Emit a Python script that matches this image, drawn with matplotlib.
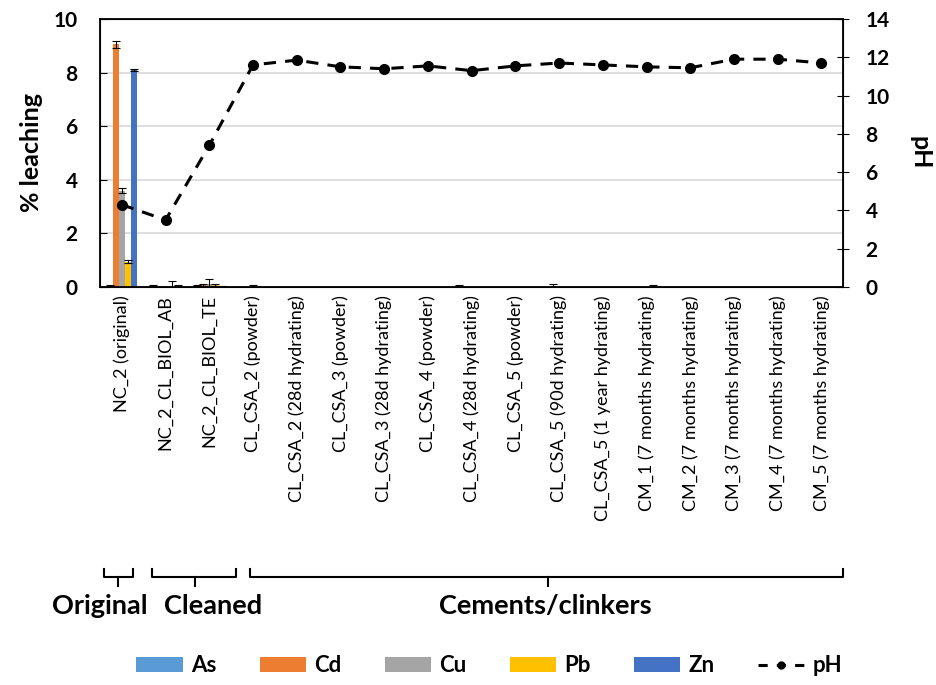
import numpy as np
import matplotlib.pyplot as plt
from matplotlib.patches import Patch
from matplotlib.lines import Line2D

plt.rcParams['font.family'] = ['Lato', 'DejaVu Sans']

samples = ['NC_2 (original)', 'NC_2_CL_BIOL_AB', 'NC_2_CL_BIOL_TE',
           'CL_CSA_2 (powder)', 'CL_CSA_2 (28d hydrating)', 'CL_CSA_3 (powder)',
           'CL_CSA_3 (28d hydrating)', 'CL_CSA_4 (powder)', 'CL_CSA_4 (28d hydrating)',
           'CL_CSA_5 (powder)', 'CL_CSA_5 (90d hydrating)', 'CL_CSA_5 (1 year hydrating)',
           'CM_1 (7 months hydrating)', 'CM_2 (7 months hydrating)', 'CM_3 (7 months hydrating)',
           'CM_4 (7 months hydrating)', 'CM_5 (7 months hydrating)']

metals = ['As', 'Cd', 'Cu', 'Pb', 'Zn']
colors = ['#5B9BD5', '#ED7D31', '#A5A5A5', '#FFC000', '#4472C4']

As = [0.06, 0.04, 0.05, 0.01, 0.0, 0.0, 0.0, 0.0, 0.05, 0.0, 0.0, 0.0, 0.0, 0.0, 0.0, 0.0, 0.0]
Cd = [9.05, 0.02, 0.08, 0.0, 0.0, 0.0, 0.0, 0.0, 0.0, 0.0, 0.01, 0.0, 0.0, 0.0, 0.0, 0.0, 0.0]
Cu = [3.6, 0.03, 0.12, 0.02, 0.0, 0.0, 0.0, 0.0, 0.0, 0.0, 0.0, 0.0, 0.0, 0.0, 0.0, 0.0, 0.0]
Pb = [0.95, 0.05, 0.06, 0.0, 0.0, 0.0, 0.0, 0.0, 0.0, 0.0, 0.0, 0.0, 0.04, 0.0, 0.0, 0.0, 0.0]
Zn = [8.1, 0.03, 0.03, 0.0, 0.0, 0.0, 0.0, 0.0, 0.0, 0.0, 0.0, 0.0, 0.0, 0.0, 0.0, 0.0, 0.0]

As_err = [0.03, 0.02, 0.02, 0.0, 0.0, 0.0, 0.0, 0.0, 0.02, 0.0, 0.0, 0.0, 0.0, 0.0, 0.0, 0.0, 0.0]
Cd_err = [0.12, 0.0, 0.04, 0.0, 0.0, 0.0, 0.0, 0.0, 0.0, 0.0, 0.12, 0.0, 0.0, 0.0, 0.0, 0.0, 0.0]
Cu_err = [0.1, 0.0, 0.18, 0.07, 0.0, 0.0, 0.0, 0.0, 0.0, 0.0, 0.0, 0.0, 0.0, 0.0, 0.0, 0.0, 0.0]
Pb_err = [0.04, 0.18, 0.04, 0.0, 0.0, 0.0, 0.0, 0.0, 0.0, 0.0, 0.0, 0.0, 0.03, 0.0, 0.0, 0.0, 0.0]
Zn_err = [0.05, 0.06, 0.02, 0.0, 0.0, 0.0, 0.0, 0.0, 0.0, 0.0, 0.0, 0.0, 0.0, 0.0, 0.0, 0.0, 0.0]

pH = [4.3, 3.5, 7.4, 11.6, 11.85, 11.5, 11.4, 11.55, 11.3, 11.55, 11.7, 11.6,
      11.5, 11.45, 11.9, 11.9, 11.7]

values = [As, Cd, Cu, Pb, Zn]
errors = [As_err, Cd_err, Cu_err, Pb_err, Zn_err]

fig = plt.figure(figsize=(9.37, 6.85), dpi=100)
ax = fig.add_axes([0.1067, 0.581, 0.7933, 0.3913])

x = np.arange(len(samples))
w = 0.14
for i in range(5):
    ax.bar(x + (i - 2) * w, values[i], w, color=colors[i], zorder=2)
    err = np.array(errors[i])
    mask = err > 0
    ax.errorbar(x[mask] + (i - 2) * w, np.array(values[i])[mask], yerr=err[mask],
                fmt='none', ecolor='black', elinewidth=0.8, capsize=3, capthick=0.8, zorder=3)

ax.set_xlim(-0.5, len(samples) - 0.5)
ax.set_ylim(0, 10)
ax.set_yticks(range(0, 11, 2))
ax.yaxis.grid(True, color='#D9D9D9', linewidth=1.2, zorder=0)
ax.set_axisbelow(True)
ax.set_xticks(x)
ax.set_xticklabels(samples, rotation=90, fontsize=13)
ax.tick_params(axis='x', length=0, pad=6)
ax.tick_params(axis='y', direction='in', length=5, labelsize=15, pad=16)
for lab in ax.get_yticklabels():
    lab.set_fontweight('bold')
ax.set_ylabel('% leaching', fontsize=18, fontweight='bold', labelpad=8)
for s in ax.spines.values():
    s.set_linewidth(1.3)

ax2 = ax.twinx()
ax2.plot(x, pH, color='black', linestyle=(0, (4, 3)), linewidth=2.2,
         marker='o', markersize=7, zorder=4)
ax2.set_ylim(0, 14)
ax2.set_yticks(range(0, 15, 2))
ax2.tick_params(axis='y', direction='inout', length=8, labelsize=15, pad=12)
for lab in ax2.get_yticklabels():
    lab.set_fontweight('bold')
ax2.set_ylabel('pH', fontsize=18, fontweight='bold', rotation=270, labelpad=30)

# group braces below the category labels
def brace(x0, x1, xm, y=0.157, h=0.012):
    fig.add_artist(Line2D([x0, x0, x1, x1], [y + h, y, y, y + h],
                          transform=fig.transFigure, color='black', linewidth=1.5))
    fig.add_artist(Line2D([xm, xm], [y, y - h], transform=fig.transFigure,
                          color='black', linewidth=1.5))

brace(104 / 937, 133 / 937, 118 / 937)
brace(152 / 937, 236 / 937, 195 / 937)
brace(250 / 937, 843 / 937, 548 / 937)
fig.text(100 / 937, 0.115, 'Original', ha='center', va='center', fontsize=19.5, fontweight='bold')
fig.text(213 / 937, 0.115, 'Cleaned', ha='center', va='center', fontsize=19.5, fontweight='bold')
fig.text(545 / 937, 0.115, 'Cements/clinkers', ha='center', va='center', fontsize=19.5, fontweight='bold')

handles = [Patch(facecolor=c, label=m) for c, m in zip(colors, metals)]
handles.append(Line2D([], [], color='black', linestyle=(0, (3, 3)), linewidth=2.2,
                      marker='o', markersize=5, label='pH'))
fig.legend(handles=handles, loc='center', bbox_to_anchor=(0.522, 0.028), ncol=6,
           frameon=False, prop={'size': 16, 'weight': 'bold'}, handlelength=2.1,
           handleheight=0.6, columnspacing=1.95, handletextpad=0.35)

fig.savefig('out.png', dpi=100)
